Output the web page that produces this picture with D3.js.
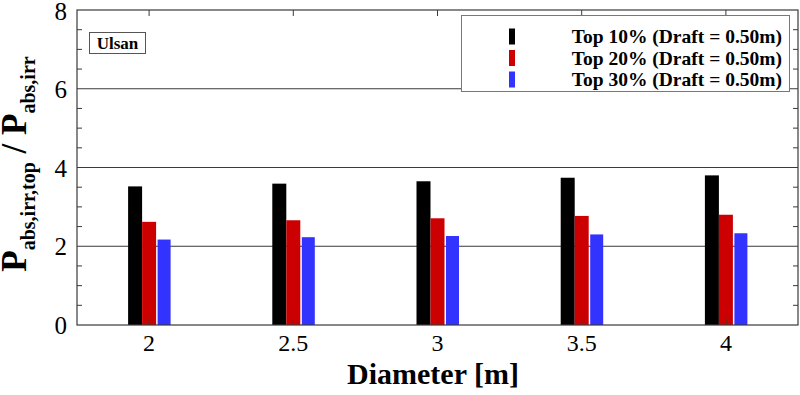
<!DOCTYPE html>
<meta charset="utf-8">
<script src="https://d3js.org/d3.v7.min.js"></script>
<style>
    body { margin: 0; background: #fff; }
    svg { display: block; }
    text { font-family: "Liberation Serif", "Times New Roman", serif; }
</style>
<div id="chart"></div>
<script>
    // data
    var diameters = [2, 2.5, 3, 3.5, 4];
    var seriesNames = ["Top 10% (Draft = 0.50m)", "Top 20% (Draft = 0.50m)", "Top 30% (Draft = 0.50m)"];
    var seriesColors = ["#000000", "#cc0000", "#3333ff"];
    var top10 = [3.52, 3.59, 3.65, 3.74, 3.80];
    var top20 = [2.62, 2.66, 2.71, 2.77, 2.80];
    var top30 = [2.17, 2.23, 2.26, 2.30, 2.33];
    var series = [top10, top20, top30];
    var yTicks = [0, 2, 4, 6, 8];
    var siteName = "Ulsan";

    var W = 800, H = 395;
    var pLeft = 77, pRight = 798, pTop = 10, pBottom = 325;
    var frameColor = "#3a3a3a";

    var svg = d3.select("#chart").append("svg")
        .attr("width", W)
        .attr("height", H);

    var x = d3.scaleLinear().domain([1.75, 4.25]).range([pLeft, pRight]);
    var y = d3.scaleLinear().domain([0, 8]).range([pBottom, pTop]);

    // bar layout around each tick
    var barOffset = [-14, 0, 15];
    var barWidth = [14, 14, 13];

    // gridlines at the major ticks
    svg.append("g")
        .selectAll("line")
        .data(yTicks.filter(function (d) { return d > 0 && d < 8; }))
        .join("line")
        .attr("x1", pLeft).attr("x2", pRight)
        .attr("y1", function (d) { return y(d); })
        .attr("y2", function (d) { return y(d); })
        .attr("stroke", frameColor)
        .attr("stroke-width", 1);

    // bars
    series.forEach(function (vals, si) {
        svg.append("g")
            .selectAll("rect")
            .data(vals)
            .join("rect")
            .attr("x", function (d, i) { return x(diameters[i]) + barOffset[si] - barWidth[si] / 2; })
            .attr("y", function (d) { return y(d); })
            .attr("width", barWidth[si])
            .attr("height", function (d) { return y(0) - y(d); })
            .attr("fill", seriesColors[si]);
    });

    // minor ticks, inward, on all sides
    var yMinor = d3.range(0.5, 8, 0.5).filter(function (d) { return d % 2 !== 0; });
    var ticks = svg.append("g").attr("stroke", frameColor).attr("stroke-width", 1);
    yMinor.forEach(function (v) {
        ticks.append("line").attr("x1", pLeft).attr("x2", pLeft + 5).attr("y1", y(v)).attr("y2", y(v));
        ticks.append("line").attr("x1", pRight).attr("x2", pRight - 5).attr("y1", y(v)).attr("y2", y(v));
    });
    diameters.forEach(function (v) {
        ticks.append("line").attr("x1", x(v)).attr("x2", x(v)).attr("y1", pBottom).attr("y2", pBottom - 7);
        ticks.append("line").attr("x1", x(v)).attr("x2", x(v)).attr("y1", pTop).attr("y2", pTop + 6);
    });

    // frame
    svg.append("rect")
        .attr("x", pLeft).attr("y", pTop)
        .attr("width", pRight - pLeft).attr("height", pBottom - pTop)
        .attr("fill", "none")
        .attr("stroke", frameColor)
        .attr("stroke-width", 1.2);

    // y tick labels
    svg.append("g")
        .selectAll("text")
        .data(yTicks)
        .join("text")
        .attr("x", 67)
        .attr("y", function (d) { return Math.max(y(d) + 9, 20); })
        .attr("text-anchor", "end")
        .style("font-size", "25px")
        .text(function (d) { return d; });

    // x tick labels
    svg.append("g")
        .selectAll("text")
        .data(diameters)
        .join("text")
        .attr("x", function (d) { return x(d); })
        .attr("y", 351)
        .attr("text-anchor", "middle")
        .style("font-size", "24px")
        .text(function (d) { return d; });

    // x title
    svg.append("text")
        .attr("x", 433)
        .attr("y", 384)
        .attr("text-anchor", "middle")
        .style("font-size", "30px")
        .style("font-weight", "bold")
        .text("Diameter [m]");

    // y title with subscripts
    var yt = svg.append("text")
        .attr("transform", "translate(26,164) rotate(-90)")
        .attr("text-anchor", "middle")
        .style("font-weight", "bold");
    yt.append("tspan").style("font-size", "35px").text("P");
    yt.append("tspan").style("font-size", "20px").attr("dy", 9).text("abs,irr,top");
    yt.append("tspan").style("font-size", "35px").attr("dy", -9).text(" / P");
    yt.append("tspan").style("font-size", "20px").attr("dy", 9).text("abs,irr");

    // site label box
    svg.append("rect")
        .attr("x", 89.5).attr("y", 32.5)
        .attr("width", 56).attr("height", 21)
        .attr("fill", "#fff")
        .attr("stroke", "#555")
        .attr("stroke-width", 1);
    svg.append("text")
        .attr("x", 117.5)
        .attr("y", 49)
        .attr("text-anchor", "middle")
        .style("font-size", "17px")
        .style("font-weight", "bold")
        .text(siteName);

    // legend
    var lg = svg.append("g");
    lg.append("rect")
        .attr("x", 461.5).attr("y", 15.5)
        .attr("width", 328).attr("height", 76)
        .attr("fill", "#fff")
        .attr("stroke", "#777")
        .attr("stroke-width", 1);
    seriesNames.forEach(function (name, i) {
        var cy = 36.5 + i * 21.5;
        lg.append("rect")
            .attr("x", 509).attr("y", cy - 8)
            .attr("width", 6).attr("height", 16)
            .attr("fill", seriesColors[i]);
        lg.append("text")
            .attr("x", 782)
            .attr("y", cy + 6.5)
            .attr("text-anchor", "end")
            .style("font-size", "19.5px")
            .style("font-weight", "bold")
            .text(name);
    });
</script>
